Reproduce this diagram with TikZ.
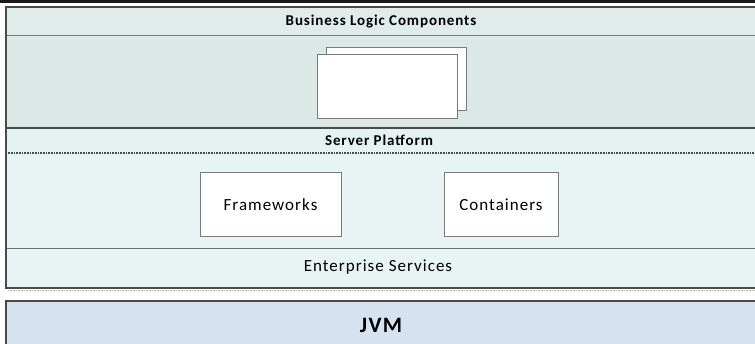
\documentclass[tikz,border=0pt]{standalone}
\usepackage{fontspec}
\setmainfont{Carlito}[LetterSpace=6]
\usetikzlibrary{positioning}

\definecolor{frameedge}{HTML}{4A4A4A}
\definecolor{boxedge}{HTML}{7A7A7A}
\definecolor{headfill}{HTML}{E0ECEA}
\definecolor{logicfill}{HTML}{DCE8E6}
\definecolor{serverfill}{HTML}{E4F2F2}
\definecolor{midfill}{HTML}{E8F4F4}
\definecolor{jvmfill}{HTML}{D5E2EF}

\tikzset{
  comp/.style={draw=boxedge, fill=white, line width=1pt, minimum height=64pt,
    font=\fontsize{17}{20}\selectfont, inner sep=0pt},
  headtext/.style={font=\bfseries\fontsize{15}{18}\selectfont},
  bigtext/.style={font=\fontsize{17}{20}\selectfont},
}

\begin{document}
\begin{tikzpicture}[x=1pt, y=-1pt]
\useasboundingbox (0,0) rectangle (755,344);
\clip (0,0) rectangle (755,344);
\fill[white] (0,0) rectangle (755,344);

% layer bands
\fill[headfill] (6,7) rectangle (770,36);
\fill[logicfill] (6,36) rectangle (770,128);
\fill[serverfill] (6,128) rectangle (770,153);
\fill[midfill] (6,153) rectangle (770,288);
\fill[jvmfill] (6,301) rectangle (770,350);

% separators
\draw[boxedge, line width=1pt] (6,36) -- (770,36);
\draw[frameedge, line width=2pt] (6,128) -- (770,128);
\draw[frameedge, line width=1.6pt, dash pattern=on 0.8pt off 0.8pt] (6,153) -- (770,153);
\draw[frameedge!80, line width=0.8pt] (6,248) -- (770,248);
\draw[gray!60, line width=1.5pt, dash pattern=on 0.8pt off 0.8pt] (8,290.5) -- (770,290.5);

% frames
\draw[black!90, line width=3pt] (0,1.2) -- (755,1.2);
\draw[frameedge, line width=2pt] (6,7) rectangle (770,288);
\draw[frameedge, line width=2pt] (6,301) rectangle (770,350);

% titles
\node[headtext] (logic) at (381,22) {Business Logic Components};
\node[headtext] (server) at (379,140.5) {Server Platform};
\node[bigtext] (enterprise) at (378,267.5) {Enterprise Services};
\node[font=\bfseries\fontsize{22}{25}\selectfont] (jvm) at (381,325) {JVM};

% components
\node[comp, minimum width=140pt, minimum height=63pt] (logicback) at (396,79.5) {};
\node[comp, minimum width=140pt] (logicfront) at (387,87) {};
\node[comp, minimum width=141pt] (frameworks) at (270.5,205) {Frameworks};
\node[comp, minimum width=114pt] (containers) at (501,205) {Containers};
\end{tikzpicture}
\end{document}
